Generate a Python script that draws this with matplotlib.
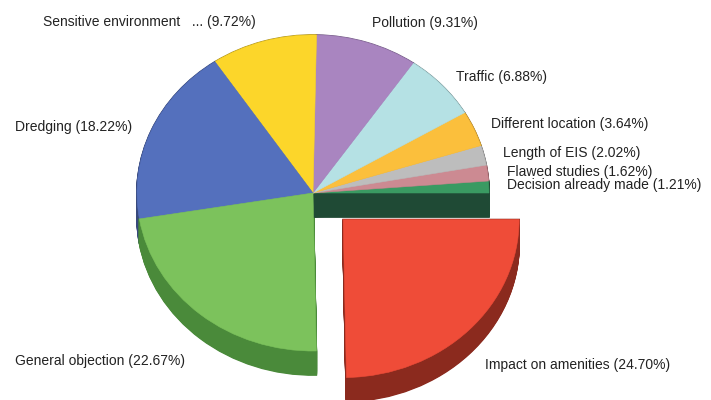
import numpy as np
import matplotlib
matplotlib.use("Agg")
import matplotlib.pyplot as plt

# slices, counter-clockwise from 3 o'clock
labels = ['Decision already made', 'Flawed studies', 'Length of EIS',
          'Different location', 'Traffic', 'Pollution',
          'Sensitive environment   ...', 'Dredging', 'General objection',
          'Impact on amenities']
shares = [1.21, 1.62, 2.02, 3.64, 6.88, 9.31, 9.72, 18.22, 22.67, 24.70]
top_colors = ['#3a9a62', '#cc8a92', '#bdbdbd', '#fbbf3c', '#b5e1e4',
              '#a985c0', '#fcd62a', '#5470bd', '#7cc25c', '#ef4c38']
side_colors = ['#1f4a35', '#8a5a60', '#808080', '#a87e26', '#789698',
               '#6f5780', '#a88e1c', '#38497c', '#4a8a3a', '#8b2a1e']
explode = [0, 0, 0, 0, 0, 0, 0, 0, 0, 0.24]

# label positions in pixels (left edge, vertical centre) on a 711x400 canvas
label_pos = [(507, 185), (507, 172), (503, 153), (491, 124), (456, 77),
             (372, 23), (43, 22), (15, 127), (15, 361), (485, 365)]

W, H = 711, 400
fig = plt.figure(figsize=(W / 100, H / 100), dpi=100)
ax = fig.add_axes([0, 0, 1, 1])

depth = 0.152
# side walls: stacked darker pies
for off in np.linspace(-depth, 0, 40):
    wedges, _ = ax.pie(shares, colors=side_colors, explode=explode,
                       startangle=0, counterclock=True, center=(0, off),
                       wedgeprops=dict(linewidth=1.2), normalize=True)
    for i, w in enumerate(wedges):
        w.set_edgecolor(w.get_facecolor())
        # the wall along the 0 deg cut must sit in front of the other walls
        w.set_zorder(1.5 if i == 0 else 1)
# top face
wedges, _ = ax.pie(shares, colors=top_colors, explode=explode, startangle=0,
                   counterclock=True, center=(0, 0),
                   wedgeprops=dict(linewidth=0.4), normalize=True)
for w in wedges:
    w.set_edgecolor(w.get_facecolor())
    w.set_zorder(2)

ax.set_aspect('auto')
ax.set_xlim(-313 / 176, (W - 313) / 176)
ax.set_ylim(-207 / 158, 193 / 158)
ax.axis('off')

for lab, val, (px, py) in zip(labels, shares, label_pos):
    fig.text(px / W, 1 - py / H, f'{lab} ({val:.2f}%)', ha='left',
             va='center', fontsize=10, family='Liberation Sans', color='#222222')

fig.savefig('out.png', dpi=100)
